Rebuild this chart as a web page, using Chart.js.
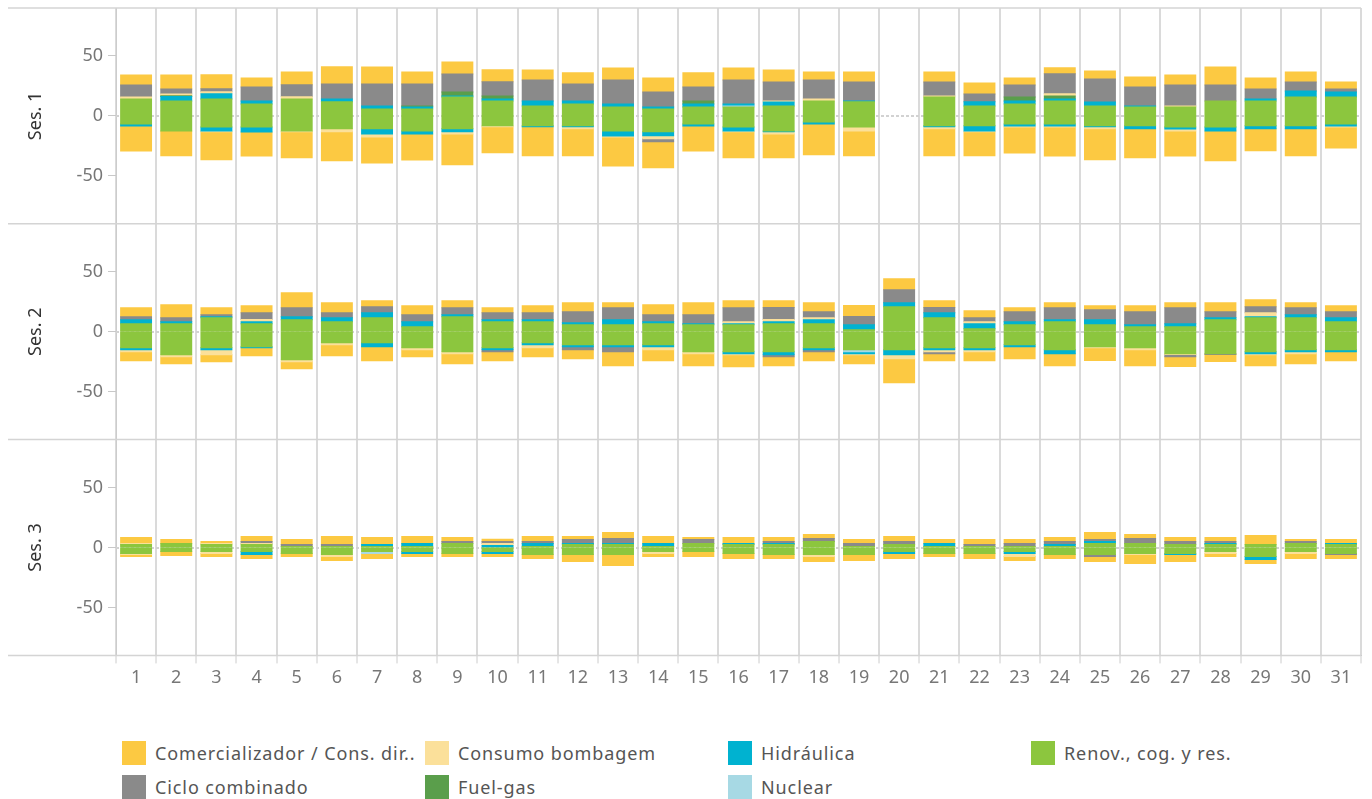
<!DOCTYPE html>
<html>
<head>
<meta charset="utf-8">
<script src="https://cdn.jsdelivr.net/npm/chart.js@4.4.1/dist/chart.umd.min.js"></script>
<style>
  body { margin: 0; background: #fff; font-family: 'Noto Sans', sans-serif; }
  #wrap { position: relative; width: 1372px; height: 700px; }
  #legend { position: absolute; left: 122px; top: 741px; display: grid; grid-template-columns: repeat(4, 303px); row-gap: 10px; }
  .item { display: flex; align-items: center; height: 24px; font-size: 18px; letter-spacing: 0.9px; color: #555; white-space: nowrap; }
  .sw { width: 24px; height: 24px; margin-right: 9px; flex: none; }
</style>
</head>
<body>
<div id="wrap"><canvas id="chart"></canvas></div>
<div id="legend"></div>
<script>
const days = ['1', '2', '3', '4', '5', '6', '7', '8', '9', '10', '11', '12', '13', '14', '15', '16', '17', '18', '19', '20', '21', '22', '23', '24', '25', '26', '27', '28', '29', '30', '31']
const yTicks = [-50, 0, 50]
const yMin = -90
const yMax = 90

// Ses. 1
const ses1RenovPos = [14.2, 12.5, 14.2, 10, 14.2, 11.7, 5.8, 5.8, 15.8, 12.5, 8.3, 10, 7.5, 5.8, 7.5, 7.5, 8.3, 12.5, 11.7, 0, 15.8, 8.3, 10, 12.5, 8.3, 7.5, 7.5, 12.5, 12.5, 15.8, 15.8]
const ses1RenovNeg = [-6.7, -12.5, -9.2, -9.2, -12.5, -10.8, -10.8, -12.5, -10.8, -8.3, -8.3, -8.3, -12.5, -13.3, -6.7, -9.2, -12.5, -5, -9.2, 0, -8.3, -8.3, -6.7, -6.7, -8.3, -8.3, -9.2, -9.2, -8.3, -8.3, -6.7]
const ses1NuclearPos = [0, 0, 0, 0, 0, 0, 0, 0, 0, 0, 0, 0, 0, 0, 0, 0.8, 0, 0, 0, 0, 0, 0, 0, 0, 0, 0, 0, 0, 0, 0, 0]
const ses1NuclearNeg = [0, 0, 0, 0, 0, 0, 0, 0, 0, 0, 0, 0, 0, 0, 0, 0, 0, 0, 0, 0, 0, 0, 0, 0, 0, 0, 0, 0, 0, 0, 0]
const ses1HidrPos = [0, 3.6, 4.2, 2.5, 0, 2.5, 2.5, 1.7, 0.8, 1.7, 4.2, 2.5, 2.5, 1.7, 2.5, 1.7, 3.3, 0, 0.8, 0, 0, 3.6, 2.5, 1.7, 3.3, 0.8, 0, 0, 1.7, 5, 4.2]
const ses1HidrNeg = [-1.7, 0, -3.3, -4.2, 0, 0, -4.2, -2.5, -2.5, 0, -0.8, -0.8, -4.2, -3.3, -1.7, -3.3, -0.8, -1.7, 0, 0, -0.8, -4.2, -1.7, -1.7, -0.8, -2.5, -1.7, -3.3, -2.5, -2.5, -1.7]
const ses1FuelPos = [0, 0.8, 0, 0, 0, 0, 0, 0.8, 3.3, 2.5, 0, 0, 0, 0, 2.5, 0, 0, 0, 0, 0, 0, 0, 3.3, 2.5, 0, 0, 0, 0, 0, 0, 0]
const ses1FuelNeg = [0, 0, 0, 0, 0, 0, 0, 0, 0, 0, 0, 0, 0, 0, 0, 0, 0, 0, 0, 0, 0, 0, 0, 0, 0, 0, 0, 0, 0, 0, 0]
const ses1BombPos = [1.6, 1.4, 1.7, 0, 1.7, 0, 0, 0, 0, 0, 0, 0, 0, 0, 0, 0, 0.8, 1.7, 0, 0, 0.8, 0, 0, 1.7, 0, 0, 0.8, 0, 0, 0, 0]
const ses1BombNeg = [0, 0, -0.8, 0, -0.8, -2.5, -2.5, 0, -1.7, -0.8, 0, -1.7, -0.8, -2.5, 0, -0.8, -1.7, 0, -3.3, 0, -1.7, -0.8, -0.8, -0.8, -1.7, 0, -1.7, 0, 0, 0, -0.8]
const ses1CicloPos = [10, 4.2, 2.5, 11.7, 10, 12.5, 18.3, 18.3, 15, 11.7, 17.5, 14.2, 20, 12.5, 11.7, 20, 15.8, 15.8, 15.8, 0, 11.7, 6.4, 10, 16.7, 19.2, 15.8, 17.5, 13.3, 8.3, 7.5, 2.5]
const ses1CicloNeg = [0, 0, 0, 0, 0, 0, 0, 0, 0, 0, 0, 0, 0, -2.5, 0, 0, 0, 0, 0, 0, 0, 0, 0, 0, 0, 0, 0, 0, 0, 0, 0]
const ses1ComPos = [8.3, 11.7, 11.7, 7.5, 10.8, 14.2, 14.2, 10, 10, 10, 8.3, 9.2, 10, 11.7, 11.7, 10, 10, 6.7, 8.3, 0, 8.3, 9.2, 5.8, 5, 6.7, 8.3, 8.3, 15, 9.2, 8.3, 5.8]
const ses1ComNeg = [-20.8, -20.8, -23.3, -20, -21.7, -24.2, -21.7, -21.7, -25.8, -21.7, -24.2, -22.5, -24.2, -21.7, -20.8, -21.7, -20, -25.8, -20.8, 0, -22.5, -20, -21.7, -24.2, -25.8, -24.2, -20.8, -25, -18.3, -22.5, -17.5]

// Ses. 2
const ses2RenovPos = [6.7, 6.7, 11.7, 6.7, 10, 8.3, 11.7, 4.2, 12.5, 8.3, 8.3, 5.8, 5.8, 6.7, 5.8, 5.8, 6.7, 6.7, 1.7, 20.8, 11.7, 2.5, 5.8, 8.3, 5.8, 4.2, 4.2, 10, 11.7, 11.7, 8.3]
const ses2RenovNeg = [-13.3, -19.2, -13.3, -12.5, -23.3, -9.2, -9.2, -13.3, -16.7, -13.3, -9.2, -10.8, -10.8, -10.8, -16.7, -16.7, -16.7, -13.3, -15, -15, -13.3, -13.3, -10.8, -15, -12.5, -13.3, -18.3, -18.3, -16.7, -15, -15]
const ses2NuclearPos = [0, 0, 0, 0, 0, 0, 0, 0, 0, 0, 0, 0, 0, 0, 0, 0, 0, 0, 0, 0, 0, 0, 0, 0, 0, 0, 0, 0, 0, 0, 0]
const ses2NuclearNeg = [0, 0, 0, 0, 0, 0, 0, 0, 0, 0, 0, 0, 0, 0, 0, 0, 0, 0, -1.7, 0, 0, 0, 0, 0, 0, 0, 0, 0, 0, 0, 0]
const ses2HidrPos = [3.3, 1.7, 0.8, 1.7, 2.5, 3.3, 4.2, 4.2, 1.7, 1.7, 1.7, 1.7, 4.2, 1.7, 0.8, 0.8, 1.7, 3.3, 4.2, 3.3, 4.2, 4.2, 2.5, 1.7, 4.2, 1.7, 2.5, 1.7, 0.8, 2.5, 3.3]
const ses2HidrNeg = [-1.7, 0, -1.7, -0.8, 0, 0, -3.3, 0, 0, -1.7, -1.7, -1.7, -1.7, -1.7, 0, -1.7, -2.5, -1.7, -1.7, -4.2, -1.7, -1.7, -1.7, -3.3, 0, 0, 0, 0, -1.7, -1.7, -1.7]
const ses2FuelPos = [0, 0, 0, 0, 0, 0, 0, 0, 0, 0, 0, 0, 0, 0, 0, 0, 0, 0, 0, 0, 0, 0, 0, 0, 0, 0, 0, 0, 0, 0, 0]
const ses2FuelNeg = [0, 0, 0, 0, 0, 0, 0, 0, 0, 0, 0, 0, 0, 0, 0, 0, 0, 0, 0, 0, 0, 0, 0, 0, 0, 0, 0, 0, 0, 0, 0]
const ses2BombPos = [0, 0, 0, 1.7, 0, 0, 0, 0, 0, 0, 0, 0, 0, 0, 0, 1.7, 1.7, 1.7, 0, 0, 0, 1.7, 0, 0, 0, 0, 0, 0, 3.3, 0, 0]
const ses2BombNeg = [-1.7, -1.7, -4.2, 0, -1.7, -1.7, 0, -1.7, -1.7, 0, -2.5, 0, 0, -2.5, -1.7, -0.8, 0, 0, -0.8, -3.3, -1.7, -1.7, 0, 0, -0.8, -1.7, -0.8, 0, -0.8, -1.7, 0]
const ses2CicloPos = [2.5, 3.3, 1.7, 5.8, 7.5, 4.2, 5, 5.8, 5.8, 5.8, 5.8, 9.2, 10, 5.8, 7.5, 11.7, 10, 5, 6.7, 10.8, 4.2, 3.3, 8.3, 10, 8.3, 10.8, 13.3, 5, 5, 5.8, 5]
const ses2CicloNeg = [0, 0, 0, 0, 0, 0, 0, 0, 0, -1.7, 0, -2.5, -4.2, 0, 0, 0, -1.7, -1.7, 0, 0, -1.7, 0, 0, 0, 0, 0, -1.7, -0.8, 0, 0, 0]
const ses2ComPos = [7.5, 10.8, 5.8, 5.8, 12.5, 8.3, 5, 7.5, 5.8, 4.2, 5.8, 7.5, 4.2, 8.3, 10, 5.8, 5.8, 7.5, 9.2, 9.2, 5.8, 5.8, 3.3, 4.2, 3.3, 5, 4.2, 7.5, 5.8, 4.2, 5]
const ses2ComNeg = [-7.5, -5.8, -5.8, -6.7, -5.8, -9.2, -11.7, -5.8, -8.3, -7.5, -7.5, -7.5, -11.7, -9.2, -10, -10, -7.5, -7.5, -7.5, -20, -5.8, -7.5, -10, -10, -10.8, -13.3, -8.3, -5.8, -9.2, -8.3, -7.5]

// Ses. 3
const ses3RenovPos = [2.5, 3.3, 2.5, 2.5, 0.8, 0.8, 0.8, 0.8, 3.3, 0, 0.8, 2.5, 2.5, 0.8, 3.3, 2.5, 2.5, 5, 0.8, 2.5, 0.8, 0.8, 0.8, 0.8, 3.3, 3.3, 2.5, 2.5, 2.5, 3.3, 2.5]
const ses3RenovNeg = [-5, -3.3, -3.3, -3.3, -5, -5.8, -3.3, -3.3, -5, -3.3, -5.8, -5.8, -5.8, -3.3, -3.3, -5, -5.8, -5.8, -5.8, -3.3, -5, -5, -3.3, -5.8, -5.8, -5, -5, -3.3, -7.5, -3.3, -5]
const ses3NuclearPos = [0, 0, 0, 0, 0, 0, 0, 0, 0, 0, 0, 0, 0, 0, 0, 0, 0, 0, 0, 0, 0, 0, 0, 0, 0, 0, 0, 0, 0, 0, 0]
const ses3NuclearNeg = [0, 0, 0, 0, 0, 0, -1.7, 0, 0, 0, 0, 0, 0, 0, 0, 0, 0, 0, 0, 0, 0, 0, 0, 0, 0, 0, 0, 0, 0, 0, 0]
const ses3HidrPos = [0, 0, 0, 0, 0, 0, 1.7, 2.5, 0, 1.7, 2.5, 0.8, 0.8, 2.5, 0, 0.8, 0.8, 0, 0, 0, 2.5, 0, 0, 1.7, 1.7, 0, 0, 0.8, 0, 0, 0.8]
const ses3HidrNeg = [0, 0, 0, -2.5, 0, 0, 0, -1.7, 0, -1.7, 0, 0, 0, 0, 0, 0, 0, 0, 0, -1.7, 0, 0, -1.7, 0, 0, 0, -0.8, 0, -2.5, 0, 0]
const ses3FuelPos = [0, 0, 0, 0, 0, 0, 0, 0, 0, 0, 0, 0, 0, 0, 0, 0, 0, 0, 0, 0, 0, 0, 0, 0, 0, 0, 0, 0, 0, 0, 0]
const ses3FuelNeg = [0, 0, 0, 0, 0, 0, 0, 0, 0, 0, 0, 0, 0, 0, 0, 0, 0, 0, 0, 0, 0, 0, 0, 0, 0, 0, 0, 0, 0, 0, 0]
const ses3BombPos = [0.8, 0, 0.8, 0.8, 0, 0, 0, 0, 0, 1.7, 0, 0, 0, 0, 0, 0, 0, 0, 0, 0, 0, 0, 0, 0, 0, 0, 0, 0, 0, 0, 0]
const ses3BombNeg = [-0.8, 0, -1.7, 0, 0, -1.7, 0, 0, 0, 0, 0, 0, 0, -1.7, 0, 0, 0, -1.7, 0, 0, 0, 0, -2.5, 0, 0, -0.8, 0, -1.7, 0, -1.7, 0]
const ses3CicloPos = [0, 0, 0, 1.7, 1.7, 1.7, 0, 0, 1.7, 1.7, 1.7, 3.3, 4.2, 0, 3.3, 0, 1.7, 2.5, 2.5, 2.5, 0, 1.7, 2.5, 2.5, 1.7, 4.2, 2.5, 1.7, 0, 1.7, 0]
const ses3CicloNeg = [0, 0, 0, 0, 0, 0, 0, 0, 0, 0, 0, 0, 0, 0, 0, 0, 0, 0, 0, 0, 0, 0, 0, 0, -1.7, 0, 0, 0, 0, 0, -0.8]
const ses3ComPos = [5, 3.3, 1.7, 4.2, 4.2, 6.7, 5.8, 5.8, 3.3, 1.7, 4.2, 2.5, 5, 5.8, 1.7, 5, 3.3, 3.3, 3.3, 4.2, 3.3, 4.2, 3.3, 3.3, 5.8, 3.3, 3.3, 3.3, 7.5, 1.7, 3.3]
const ses3ComNeg = [-1.7, -3.3, -2.5, -3.3, -2.5, -3.3, -4.2, -2.5, -2.5, -2.5, -3.3, -5.8, -9.2, -2.5, -4.2, -4.2, -3.3, -4.2, -5, -4.2, -2.5, -4.2, -3.3, -3.3, -4.2, -7.5, -5.8, -2.5, -3.3, -4.2, -3.3]

// stack order: first one sits next to zero
const seriesNames = ['Renov., cog. y res.', 'Nuclear', 'Hidráulica', 'Fuel-gas', 'Consumo bombagem', 'Ciclo combinado', 'Comercializador / Cons. dir..']
const seriesColors = ['#8cc63e', '#a7d9e4', '#00b2d0', '#5a9e4b', '#fbe09a', '#8a8a8a', '#fcc942']
const legendOrder = ['Comercializador / Cons. dir..', 'Consumo bombagem', 'Hidráulica', 'Renov., cog. y res.', 'Ciclo combinado', 'Fuel-gas', 'Nuclear']

const panels = [
  { id: 'y1', title: 'Ses. 1',
    pos: [ses1RenovPos, ses1NuclearPos, ses1HidrPos, ses1FuelPos, ses1BombPos, ses1CicloPos, ses1ComPos],
    neg: [ses1RenovNeg, ses1NuclearNeg, ses1HidrNeg, ses1FuelNeg, ses1BombNeg, ses1CicloNeg, ses1ComNeg] },
  { id: 'y2', title: 'Ses. 2',
    pos: [ses2RenovPos, ses2NuclearPos, ses2HidrPos, ses2FuelPos, ses2BombPos, ses2CicloPos, ses2ComPos],
    neg: [ses2RenovNeg, ses2NuclearNeg, ses2HidrNeg, ses2FuelNeg, ses2BombNeg, ses2CicloNeg, ses2ComNeg] },
  { id: 'y3', title: 'Ses. 3',
    pos: [ses3RenovPos, ses3NuclearPos, ses3HidrPos, ses3FuelPos, ses3BombPos, ses3CicloPos, ses3ComPos],
    neg: [ses3RenovNeg, ses3NuclearNeg, ses3HidrNeg, ses3FuelNeg, ses3BombNeg, ses3CicloNeg, ses3ComNeg] }
]

const fontFamily = "'Noto Sans', sans-serif"
Chart.defaults.font.family = fontFamily

// empty segments are skipped so nothing is drawn for them
const skipZero = (arr) => arr.map((v) => (v === 0 ? null : v))

const datasets = []
panels.forEach((p) => {
  seriesNames.forEach((name, i) => {
    datasets.push({ label: name, data: skipZero(p.pos[i]), yAxisID: p.id, backgroundColor: seriesColors[i], inflateAmount: 0.5 })
    datasets.push({ label: name, data: skipZero(p.neg[i]), yAxisID: p.id, backgroundColor: seriesColors[i], inflateAmount: 0.5 })
  })
})

function panelScale(title) {
  return {
    type: 'linear',
    position: 'left',
    stack: 'ses',
    stackWeight: 1,
    stacked: true,
    min: yMin,
    max: yMax,
    afterBuildTicks: (scale) => { scale.ticks = yTicks.map((v) => ({ value: v })) },
    afterFit: (scale) => {
      scale.width = 116
      scale.paddingTop = 0
      scale.paddingBottom = 0
    },
    grid: { drawOnChartArea: false, drawTicks: true, tickLength: 8, tickColor: '#c8c8c8', tickWidth: 1 },
    border: { display: true, color: '#cccccc', width: 1 },
    ticks: { color: '#777', font: { size: 18 }, padding: 5 },
    title: { display: true, text: title, color: '#333', font: { size: 18 }, padding: { top: 25, bottom: 0 } }
  }
}

const scales = {
  x: {
    stacked: true,
    offset: true,
    afterFit: (scale) => {
      scale.paddingLeft = 0
      scale.paddingRight = 0
    },
    grid: { color: '#dadada', lineWidth: 2, offset: true, drawTicks: true, tickLength: 8, tickColor: '#cccccc', tickWidth: 1 },
    border: { display: true, color: '#cccccc', width: 1 },
    ticks: { color: '#777', font: { size: 18 }, padding: 4, maxRotation: 0, autoSkip: false }
  }
}
// stacked axes are laid out bottom-up, so the last panel goes in first
panels.slice().reverse().forEach((p) => { scales[p.id] = panelScale(p.title) })

const panelLines = {
  id: 'panelLines',
  beforeDatasetsDraw(chart) {
    const ctx = chart.ctx
    const area = chart.chartArea
    ctx.save()
    ctx.strokeStyle = '#d2d2d2'
    ctx.lineWidth = 2
    ctx.setLineDash([3, 2])
    panels.forEach((p) => {
      const y = Math.round(chart.scales[p.id].getPixelForValue(0))
      ctx.beginPath()
      ctx.moveTo(area.left, y)
      ctx.lineTo(area.right, y)
      ctx.stroke()
    })
    ctx.setLineDash([])
    ctx.strokeStyle = '#d4d4d4'
    ctx.lineWidth = 1.5
    const edges = panels.map((p) => chart.scales[p.id].top)
    edges.push(chart.scales[panels[panels.length - 1].id].bottom)
    edges.forEach((y) => {
      ctx.beginPath()
      ctx.moveTo(8, y)
      ctx.lineTo(area.right, y)
      ctx.stroke()
    })
    ctx.restore()
  }
}

new Chart(document.getElementById('chart'), {
  type: 'bar',
  data: { labels: days, datasets },
  options: {
    responsive: true,
    maintainAspectRatio: false,
    animation: false,
    barPercentage: 0.77,
    categoryPercentage: 1,
    layout: { padding: { top: 8, left: 0, right: 11, bottom: 7 } },
    plugins: { legend: { display: false }, tooltip: { enabled: false } },
    scales
  },
  plugins: [panelLines]
})

const legend = document.getElementById('legend')
legendOrder.forEach((name) => {
  const item = document.createElement('div')
  item.className = 'item'
  item.innerHTML = `<span class="sw" style="background:${seriesColors[seriesNames.indexOf(name)]}"></span>${name}`
  legend.appendChild(item)
})
</script>
</body>
</html>
